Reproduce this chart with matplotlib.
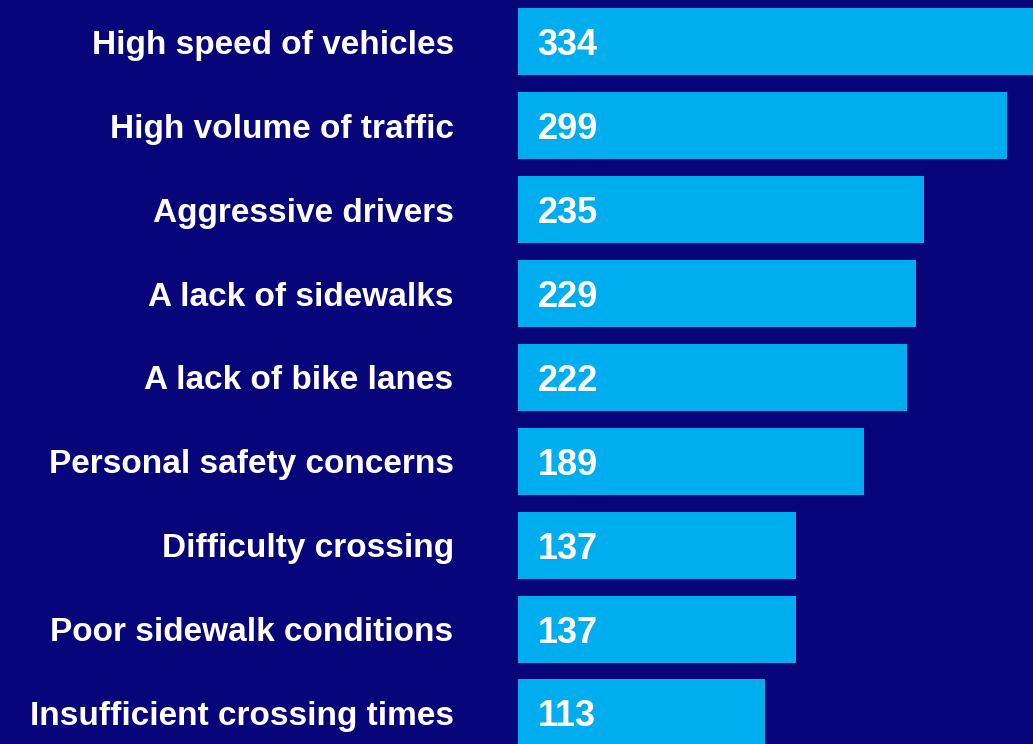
import matplotlib
matplotlib.use("Agg")
import matplotlib.pyplot as plt

# data
categories = [
    "High speed of vehicles",
    "High volume of traffic",
    "Aggressive drivers",
    "A lack of sidewalks",
    "A lack of bike lanes",
    "Personal safety concerns",
    "Difficulty crossing",
    "Poor sidewalk conditions",
    "Insufficient crossing times",
]
counts = [334, 299, 235, 229, 222, 189, 137, 137, 113]

# colours
bg = "#08057a"
bar_color = "#00aeef"

plt.rcParams["font.family"] = ["Liberation Sans", "DejaVu Sans"]

fig = plt.figure(figsize=(10.33, 7.44), dpi=100, facecolor=bg)
ax = fig.add_axes([518 / 1033, 0, 1 - 518 / 1033, 1])
ax.set_facecolor(bg)

# bars start left of zero so short bars keep some length
base = -77
y = list(range(len(categories)))
ax.barh(y, [c - base for c in counts], left=base, height=0.8, color=bar_color)

ax.set_xlim(base, 319)
ax.set_ylim(8.37, -0.5)
ax.axis("off")

for yi, (cat, c) in enumerate(zip(categories, counts)):
    ax.text(-0.125, yi, cat, transform=ax.get_yaxis_transform(),
            ha="right", va="center_baseline", color="white", fontsize=24, fontweight="bold")
    ax.text(base + 15, yi, str(c), ha="left", va="center_baseline",
            color="white", fontsize=26, fontweight="bold")

fig.savefig("out.png", dpi=100, facecolor=bg)
